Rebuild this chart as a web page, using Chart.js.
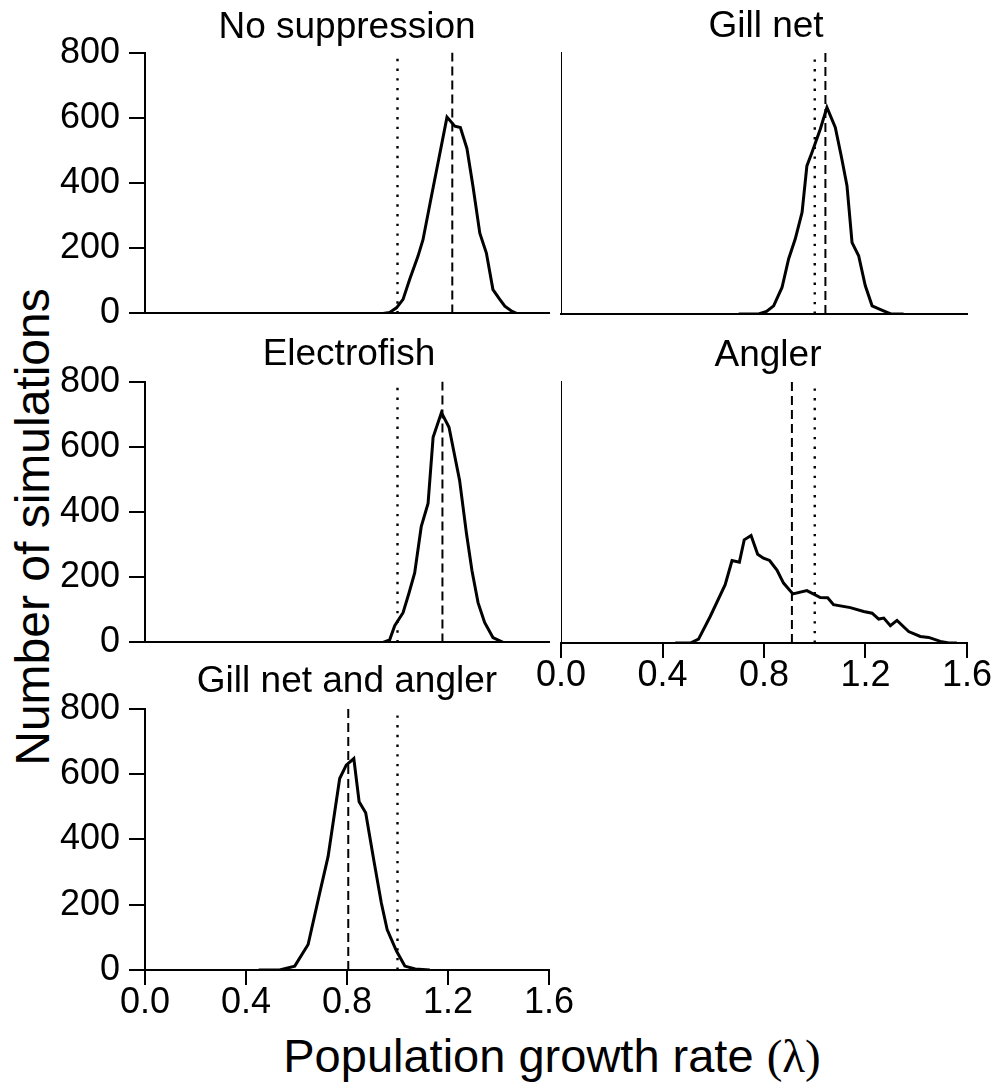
<!DOCTYPE html>
<html>
<head>
<meta charset="utf-8">
<title>Population growth rate simulations</title>
<script src="https://cdn.jsdelivr.net/npm/chart.js@4.4.1/dist/chart.umd.min.js"></script>
<style>
  html, body { margin: 0; padding: 0; background: #fff; overflow: hidden; }
  #figure { position: relative; width: 998px; height: 1085px; font-family: "Liberation Sans", Arial, sans-serif; color: #000; }
  #figure canvas { position: absolute; }
  .panel-title { position: absolute; width: 400px; text-align: center; font-size: 37px; line-height: 37px; white-space: nowrap; }
  #xTitle { position: absolute; left: 252px; top: 1032px; width: 600px; text-align: center; font-size: 47px; line-height: 47px; white-space: nowrap; }
  #xTitle .lam { font-family: "Liberation Serif", "Times New Roman", serif; }
  #yTitle { position: absolute; left: -267px; top: 503px; width: 600px; height: 48px; text-align: center; font-size: 48px; line-height: 48px; white-space: nowrap; transform: rotate(-90deg); }
</style>
</head>
<body>
<div id="figure">
  <div id="yTitle">Number of simulations</div>
  <div id="xTitle">Population growth rate <span class="lam">(λ)</span></div>
</div>
<script>
// values: lambda (x) and number of simulations (y)
const noSuppLambda = [0.90, 0.943, 0.969, 0.996, 1.022, 1.048, 1.081, 1.101, 1.134, 1.165, 1.196, 1.227, 1.249, 1.275, 1.299, 1.326, 1.352, 1.378, 1.405, 1.425, 1.45, 1.471, 1.50];
const noSuppCount  = [0, 0, 3, 17, 43, 104, 175, 226, 358, 480, 602, 574, 570, 506, 389, 246, 185, 73, 43, 22, 8, 0, 0];

const gillLambda = [0.70, 0.779, 0.81, 0.838, 0.871, 0.897, 0.923, 0.950, 0.969, 0.989, 1.022, 1.048, 1.081, 1.105, 1.127, 1.147, 1.173, 1.199, 1.226, 1.255, 1.285, 1.30, 1.35];
const gillCount  = [0, 0, 8, 25, 81, 168, 229, 310, 452, 493, 565, 631, 570, 480, 392, 218, 178, 87, 25, 15, 5, 0, 0];

const electroLambda = [0.90, 0.943, 0.969, 0.989, 1.022, 1.045, 1.068, 1.094, 1.121, 1.141, 1.174, 1.204, 1.246, 1.273, 1.295, 1.319, 1.345, 1.378, 1.418, 1.45];
const electroCount  = [0, 0, 8, 51, 91, 150, 213, 355, 426, 629, 705, 660, 497, 335, 220, 122, 61, 15, 0, 0];

const anglerLambda = [0.45, 0.510, 0.542, 0.588, 0.647, 0.674, 0.703, 0.722, 0.749, 0.775, 0.798, 0.822, 0.851, 0.877, 0.914, 0.969, 1.022, 1.051, 1.074, 1.140, 1.193, 1.226, 1.252, 1.272, 1.298, 1.324, 1.370, 1.416, 1.449, 1.495, 1.528, 1.56];
const anglerCount  = [0, 0, 12, 81, 178, 252, 247, 315, 328, 271, 259, 252, 223, 183, 150, 160, 139, 138, 117, 108, 96, 91, 73, 76, 53, 69, 35, 20, 17, 5, 0, 0];

const gillAnglerLambda = [0.45, 0.533, 0.593, 0.646, 0.692, 0.725, 0.771, 0.797, 0.827, 0.848, 0.874, 0.906, 0.936, 0.959, 0.996, 1.029, 1.07, 1.128];
const gillAnglerCount  = [0, 0, 12, 78, 236, 347, 586, 627, 647, 515, 481, 337, 205, 124, 58, 12, 3, 0];

// reference lines: dotted = stable population (lambda 1), dashed = mean lambda
const stableLambda = [1.0, 1.0, 1.0, 1.0, 1.0];
const meanLambda   = [1.217, 1.042, 1.178, 0.910, 0.805];

const panelNames = ['No suppression', 'Gill net', 'Electrofish', 'Angler', 'Gill net and angler'];
const xTicks = [0.0, 0.4, 0.8, 1.2, 1.6];
const yTicks = [0, 200, 400, 600, 800];

const FONT = '"Liberation Sans", Arial, sans-serif';
const figure = document.getElementById('figure');

// chart area boxes in page pixels (left, top, right, bottom)
const panels = [
    { lam: noSuppLambda, n: noSuppCount, area: [145, 52, 549, 314], yLabels: true, xLabels: false, tx: 347, ty: 7 },
    { lam: gillLambda, n: gillCount, area: [561, 52, 967, 314], yLabels: false, xLabels: false, tx: 766, ty: 6 },
    { lam: electroLambda, n: electroCount, area: [145, 381, 549, 643], yLabels: true, xLabels: false, tx: 349, ty: 334 },
    { lam: anglerLambda, n: anglerCount, area: [561, 381, 967, 643], yLabels: false, xLabels: true, tx: 768, ty: 335 },
    { lam: gillAnglerLambda, n: gillAnglerCount, area: [145, 708, 549, 970], yLabels: true, xLabels: true, tx: 347, ty: 661 }
];

function zip(xs, ys) {
    return xs.map((x, i) => ({ x: x, y: ys[i] }));
}

function renderPanel(p, i) {
    const [L, T, R, B] = p.area;
    const padTop = 30;
    const padRight = 30;
    const yW = p.yLabels ? 105 : 40;
    const xH = p.xLabels ? 60 : 30;

    const canvas = document.createElement('canvas');
    canvas.width = (R - L) + yW + padRight;
    canvas.height = padTop + (B - T) + xH;
    canvas.style.left = (L - yW) + 'px';
    canvas.style.top = (T - padTop) + 'px';
    canvas.style.width = canvas.width + 'px';
    canvas.style.height = canvas.height + 'px';
    figure.appendChild(canvas);

    const title = document.createElement('div');
    title.className = 'panel-title';
    title.textContent = panelNames[i];
    title.style.left = (p.tx - 200) + 'px';
    title.style.top = p.ty + 'px';
    figure.appendChild(title);

    new Chart(canvas.getContext('2d'), {
        type: 'line',
        data: {
            datasets: [
                {
                    data: zip(p.lam, p.n),
                    borderColor: '#000',
                    borderWidth: 3,
                    pointRadius: 0,
                    tension: 0,
                    fill: false
                },
                {
                    data: [{ x: meanLambda[i], y: 0 }, { x: meanLambda[i], y: 800 }],
                    borderColor: '#000',
                    borderWidth: 2,
                    borderDash: [9, 5],
                    pointRadius: 0
                },
                {
                    data: [{ x: stableLambda[i], y: 0 }, { x: stableLambda[i], y: 800 }],
                    borderColor: '#000',
                    borderWidth: 2.4,
                    borderDash: [2.4, 7.3],
                    pointRadius: 0
                }
            ]
        },
        options: {
            responsive: false,
            animation: false,
            events: [],
            layout: { padding: { top: padTop, right: padRight, left: 0, bottom: 0 } },
            plugins: { legend: { display: false }, tooltip: { enabled: false } },
            scales: {
                x: {
                    type: 'linear',
                    min: xTicks[0],
                    max: xTicks[xTicks.length - 1],
                    afterBuildTicks: s => { s.ticks = xTicks.map(v => ({ value: v })); },
                    ticks: {
                        display: p.xLabels,
                        autoSkip: false,
                        maxRotation: 0,
                        padding: 0,
                        color: '#000',
                        font: { family: FONT, size: 36, lineHeight: 1 },
                        callback: v => Number(v).toFixed(1)
                    },
                    grid: { display: p.xLabels, drawOnChartArea: false, tickLength: 15, lineWidth: 2, color: '#000' },
                    border: { display: true, width: 2, color: '#000' },
                    afterFit: s => { s.height = xH; }
                },
                y: {
                    min: yTicks[0],
                    max: yTicks[yTicks.length - 1],
                    afterBuildTicks: s => { s.ticks = yTicks.map(v => ({ value: v })); },
                    ticks: {
                        display: p.yLabels,
                        padding: 9,
                        color: '#000',
                        font: { family: FONT, size: 36 }
                    },
                    grid: { display: p.yLabels, drawOnChartArea: false, tickLength: 16, lineWidth: 2, color: '#000' },
                    border: { display: true, width: p.yLabels ? 2 : 1, color: '#000' },
                    afterFit: s => { s.width = yW; }
                }
            }
        }
    });
}

panels.forEach(renderPanel);
</script>
</body>
</html>
